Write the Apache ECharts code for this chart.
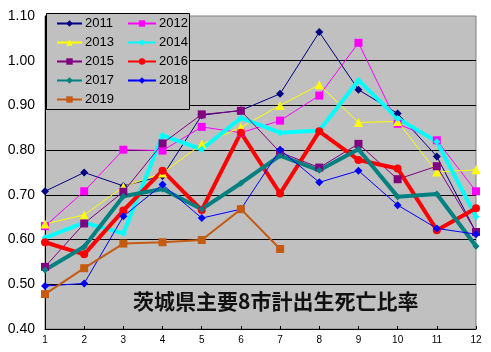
<!DOCTYPE html>
<html>
<head>
<meta charset="utf-8">
<script src="https://cdn.jsdelivr.net/npm/echarts@6/dist/echarts.min.js"></script>
<style>
  html, body { margin: 0; padding: 0; background: #fff; }
  #chart { width: 491px; height: 352px; }
</style>
</head>
<body>
<div id="chart"></div>
<script>
// months on the x axis
var months = ['1', '2', '3', '4', '5', '6', '7', '8', '9', '10', '11', '12']

// ratio values per year
var y2011 = [0.708, 0.750, 0.720, 0.742, 0.878, 0.889, 0.926, 1.064, 0.935, 0.882, 0.786, 0.616]
var y2012 = [0.630, 0.708, 0.801, 0.799, 0.852, 0.839, 0.866, 0.922, 1.040, 0.859, 0.822, 0.708]
var y2013 = [0.635, 0.655, 0.718, 0.749, 0.813, 0.851, 0.900, 0.946, 0.862, 0.864, 0.751, 0.756]
var y2014 = [0.604, 0.638, 0.614, 0.833, 0.802, 0.872, 0.839, 0.844, 0.956, 0.871, 0.819, 0.651]
var y2015 = [0.539, 0.636, 0.707, 0.815, 0.880, 0.888, 0.795, 0.761, 0.814, 0.735, 0.764, 0.617]
var y2016 = [0.594, 0.567, 0.665, 0.754, 0.666, 0.839, 0.703, 0.842, 0.778, 0.759, 0.621, 0.670]
var y2017 = [0.532, 0.584, 0.697, 0.713, 0.668, 0.726, 0.788, 0.755, 0.802, 0.696, 0.702, 0.585]
var y2018 = [0.496, 0.502, 0.652, 0.723, 0.648, 0.668, 0.801, 0.728, 0.754, 0.677, 0.625, 0.612]
var y2019 = [0.478, 0.536, 0.591, 0.594, 0.599, 0.668, 0.579]

var yMin = 0.4, yMax = 1.1, yStep = 0.1
var titleText = '茨城県主要8市計出生死亡比率'

var font = '"Liberation Sans", "DejaVu Sans", sans-serif'

function mkSeries(name, data, color, width, symbol, size) {
  return {
    name: name,
    type: 'line',
    data: data,
    symbol: symbol,
    symbolSize: size,
    showAllSymbol: true,
    animation: false,
    lineStyle: { color: color, width: width },
    itemStyle: { color: color }
  }
}

var series = [
  mkSeries('2011', y2011, '#000080', 1, 'diamond', 8),
  mkSeries('2012', y2012, '#FF00FF', 1, 'rect', 8),
  mkSeries('2013', y2013, '#FFFF00', 1, 'triangle', 9),
  mkSeries('2014', y2014, '#00FFFF', 4, 'diamond', 7),
  mkSeries('2015', y2015, '#800080', 1, 'rect', 8),
  mkSeries('2016', y2016, '#FF0000', 4, 'circle', 8),
  mkSeries('2017', y2017, '#008080', 4, 'diamond', 7),
  mkSeries('2018', y2018, '#0000FF', 1, 'diamond', 8),
  mkSeries('2019', y2019, '#C55A11', 2, 'rect', 8)
]

var chart = echarts.init(document.getElementById('chart'))

function mkLegend(left, width, names) {
  return {
    orient: 'vertical',
    left: left,
    top: 17,
    z: 100,
    padding: 0,
    itemWidth: width,
    itemHeight: 8,
    itemGap: 6,
    selectedMode: false,
    data: names,
    textStyle: { fontFamily: font, fontSize: 13, color: '#000', padding: [0, 0, 0, -2] }
  }
}

chart.setOption({
  animation: false,
  backgroundColor: '#fff',
  title: {
    text: titleText,
    left: 133,
    top: 291,
    padding: 0,
    textStyle: {
      fontFamily: '"Noto Sans CJK JP"',
      fontSize: 21,
      fontWeight: 'bold',
      color: '#111',
      textShadowColor: 'rgba(120,80,0,0.5)',
      textShadowOffsetX: 1,
      textShadowOffsetY: 1
    }
  },
  graphic: [{
    type: 'rect',
    z: 90,
    shape: { x: 46.5, y: 13.5, width: 143, height: 96 },
    style: { fill: '#C0C0C0', stroke: '#000', lineWidth: 1 }
  }],
  legend: [
    mkLegend(56, 25, ['2011', '2013', '2015', '2017', '2019']),
    mkLegend(127, 28, ['2012', '2014', '2016', '2018'])
  ],
  grid: {
    left: 45,
    right: 15,
    top: 16,
    bottom: 23,
    show: true,
    backgroundColor: '#C0C0C0',
    borderColor: '#808080',
    borderWidth: 1
  },
  xAxis: {
    type: 'category',
    boundaryGap: false,
    data: months,
    axisLine: { lineStyle: { color: '#000', width: 1 } },
    axisTick: { show: true, inside: true, length: 3, lineStyle: { color: '#000' } },
    axisLabel: { color: '#000', fontSize: 10, fontFamily: font, margin: 6 }
  },
  yAxis: {
    type: 'value',
    min: yMin,
    max: yMax,
    interval: yStep,
    axisLine: { show: true, lineStyle: { color: '#000', width: 1 } },
    axisTick: { show: false },
    axisLabel: {
      color: '#000',
      fontSize: 14,
      fontFamily: font,
      margin: 10,
      formatter: function (v) { return v.toFixed(2) }
    },
    splitLine: { show: true, showMaxLine: false, lineStyle: { color: '#000', width: 1 } }
  },
  series: series
})
</script>
</body>
</html>
